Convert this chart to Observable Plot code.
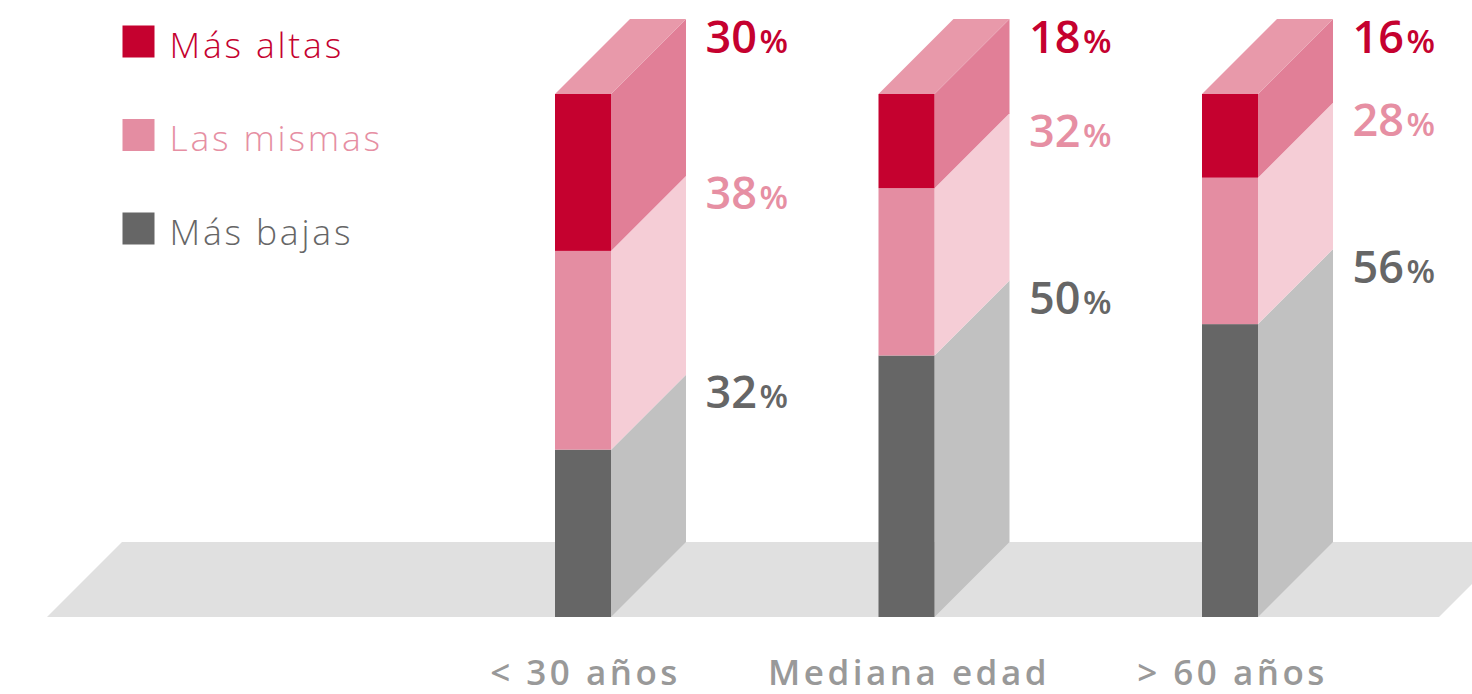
<!DOCTYPE html>
<html>
<head>
<meta charset="utf-8">
<script src="https://cdn.jsdelivr.net/npm/d3@7"></script>
<script src="https://cdn.jsdelivr.net/npm/@observablehq/plot@0.6"></script>
<style>
  html, body { margin: 0; padding: 0; background: #fff; }
  #chart svg { display: block; }
</style>
</head>
<body>
<div id="chart"></div>
<script>
// ---- data ----
const categories = ["< 30 años", "Mediana edad", "> 60 años"];
const seriesNames = ["Más bajas", "Las mismas", "Más altas"]; // stacked bottom -> top
const masBajas = [32, 50, 56];
const lasMismas = [38, 32, 28];
const masAltas = [30, 18, 16];
const legendOrder = ["Más altas", "Las mismas", "Más bajas"];

// ---- styles ----
const frontColor = {"Más bajas": "#666666", "Las mismas": "#e48da2", "Más altas": "#c5012f"};
const sideColor  = {"Más bajas": "#c1c1c1", "Las mismas": "#f5cdd6", "Más altas": "#e17f97"};
const labelColor = {"Más bajas": "#666666", "Las mismas": "#e68fa3", "Más altas": "#c5012f"};
const topColor = "#e899aa";
const floorColor = "#e0e0e0";

// ---- layout ----
const W = 1472, H = 694;
const yBase = 617, yTop = 94;
const slotPx = 323.5, firstCenterPx = 583, barPx = 56, depthPx = 75, gapPx = 19;
const pxPerY = (yBase - yTop) / 100;
const bw = barPx / slotPx;          // bar width in x units
const dxu = depthPx / slotPx;       // depth offset in x units
const dyu = depthPx / pxPerY;       // depth offset in y units
const gapu = gapPx / slotPx;

const valuesBySeries = {"Más bajas": masBajas, "Las mismas": lasMismas, "Más altas": masAltas};

// stacked segments
const segments = [];
categories.forEach((cat, i) => {
  let acc = 0;
  seriesNames.forEach(s => {
    const v = valuesBySeries[s][i];
    segments.push({cat, i, s, v, lo: acc, hi: acc + v});
    acc += v;
  });
});

// side faces (parallelograms) as areaY with two points each
const sides = segments.flatMap(d => [
  {z: d.cat + d.s, x: d.i + bw / 2, y1: d.lo, y2: d.hi, fill: sideColor[d.s]},
  {z: d.cat + d.s, x: d.i + bw / 2 + dxu, y1: d.lo + dyu, y2: d.hi + dyu, fill: sideColor[d.s]}
]);
// top faces as areaX
const tops = categories.flatMap((cat, i) => {
  const total = masBajas[i] + lasMismas[i] + masAltas[i];
  return [
    {z: cat, y: total, x1: i - bw / 2, x2: i + bw / 2},
    {z: cat, y: total + dyu, x1: i - bw / 2 + dxu, x2: i + bw / 2 + dxu}
  ];
});
// floor
const floorLeftPx = 47, floorRightPx = 1439;
const floor = [
  {y: 0, x1: (floorLeftPx - firstCenterPx) / slotPx, x2: (floorRightPx - firstCenterPx) / slotPx},
  {y: dyu, x1: (floorLeftPx - firstCenterPx) / slotPx + dxu, x2: (floorRightPx - firstCenterPx) / slotPx + dxu}
];

const labels = segments.map(d => ({
  x: d.i + bw / 2 + dxu + gapu,
  y: d.hi + dyu,
  num: String(d.v),
  color: labelColor[d.s]
}));

const legendMarks = legendOrder.flatMap((s, k) => [
  Plot.dot([s], {frameAnchor: "top-left", dx: 138, dy: 41 + 93.5 * k, symbol: "square", r: 32 / Math.sqrt(Math.PI), fill: frontColor[s], stroke: null}),
  Plot.text([s], {frameAnchor: "top-left", dx: 169, dy: 57 + 93.5 * k, text: d => d, textAnchor: "start", lineAnchor: "bottom",
    fontSize: 35.5, fontWeight: 300, fontFamily: "Open Sans", fill: labelColor[s]})
]);

const chart = Plot.plot({
  width: W,
  height: H,
  margin: 0,
  x: {type: "linear", domain: [-firstCenterPx / slotPx, (W - firstCenterPx) / slotPx], range: [0, W], axis: null},
  y: {type: "linear", domain: [0, 100], range: [yBase, yTop], axis: null},
  color: {type: "identity"},
  style: {fontFamily: "Open Sans", background: "#fff", overflow: "visible"},
  marks: [
    Plot.areaX(floor, {y: "y", x1: "x1", x2: "x2", fill: floorColor}),
    Plot.areaY(sides, {x: "x", y1: "y1", y2: "y2", z: "z", fill: "fill"}),
    Plot.areaX(tops, {y: "y", x1: "x1", x2: "x2", z: "z", fill: topColor}),
    Plot.rect(segments, {x1: d => d.i - bw / 2, x2: d => d.i + bw / 2, y1: "lo", y2: "hi", fill: d => frontColor[d.s], inset: 0}),
    Plot.text(labels, {x: "x", y: "y", text: "num", fill: "color", textAnchor: "start", lineAnchor: "bottom", dy: 33,
      fontSize: 45, fontWeight: 600, fontFamily: "Open Sans"}),
    Plot.text(labels, {x: "x", y: "y", text: () => "%", fill: "color", textAnchor: "start", lineAnchor: "bottom", dy: 33, dx: 54,
      fontSize: 33, fontWeight: 600, fontFamily: "Open Sans"}),
    Plot.text(categories, {x: (d, i) => i, y: () => 0, text: d => d, textAnchor: "middle", lineAnchor: "bottom", dy: 67,
      fontSize: 35, fontWeight: 600, fontFamily: "Open Sans", fill: "#999999"}),
    ...legendMarks
  ]
});

// letter-spacing to approximate the wide typeface of the original
chart.querySelectorAll("text").forEach(t => {
  const s = t.textContent;
  if (categories.includes(s)) { t.setAttribute("letter-spacing", "3.5"); t.setAttribute("dx", "2"); }
  if (legendOrder.includes(s)) t.setAttribute("letter-spacing", "2.8");
});

document.getElementById("chart").appendChild(chart);
</script>
</body>
</html>
